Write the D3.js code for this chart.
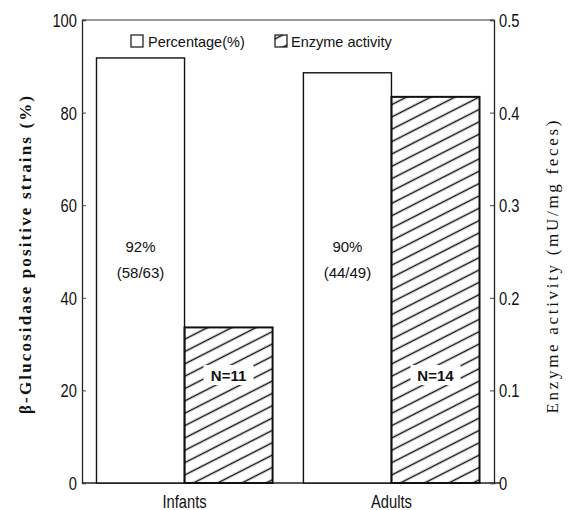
<!DOCTYPE html>
<html>
<head>
<meta charset="utf-8">
<script src="https://cdn.jsdelivr.net/npm/d3@7"></script>
<style>
  body { margin: 0; background: #fff; }
  svg text { fill: #111; }
  .tick-lab { font-family: "Liberation Sans", Arial, sans-serif; font-size: 18px; }
  .serif { font-family: "Liberation Serif", "Times New Roman", serif; font-size: 17px; }
  .legend { font-family: "Liberation Sans", Arial, sans-serif; font-size: 14.5px; }
</style>
</head>
<body>
<div id="plot"></div>
<script>
// ---- data ----
var categories = ["Infants", "Adults"];
var percentage = [91.8, 88.6];        // left axis, %
var enzyme = [0.168, 0.417];          // right axis, mU/mg feces
var pctLabels = ["92%", "90%"];
var ratioLabels = ["(58/63)", "(44/49)"];
var nLabels = ["N=11", "N=14"];
var leftTicks = [0, 20, 40, 60, 80, 100];
var rightTicks = [0, 0.1, 0.2, 0.3, 0.4, 0.5];

var W = 570, H = 510;
var margin = {top: 20, right: 76, bottom: 27, left: 82};
var width = W - margin.left - margin.right,
    height = H - margin.top - margin.bottom;
var narrow = 0.82;   // squeeze for the condensed sans used on the axes

var svg = d3.select("#plot").append("svg")
    .attr("width", W).attr("height", H);

// hatch pattern
var defs = svg.append("defs");
defs.append("pattern")
    .attr("id", "hatch")
    .attr("patternUnits", "userSpaceOnUse")
    .attr("width", 11).attr("height", 11)
    .attr("patternTransform", "rotate(-27)")
  .append("line")
    .attr("x1", 0).attr("y1", 5.5).attr("x2", 11).attr("y2", 5.5)
    .style("stroke", "#111").style("stroke-width", 1.5);

var chart = svg.append("g")
    .attr("transform", "translate(" + margin.left + "," + margin.top + ")");

var x = d3.scaleBand().domain(categories).range([0, width])
    .paddingInner(0.149).paddingOuter(0.07);
var xSub = d3.scaleBand().domain(["pct", "enz"]).range([0, x.bandwidth()]);
var yL = d3.scaleLinear().domain([0, 100]).range([height, 0]);
var yR = d3.scaleLinear().domain([0, 0.5]).range([height, 0]);

// frame
chart.append("line").attr("x1", 0).attr("x2", width).attr("y1", 0).attr("y2", 0)
    .style("stroke", "#333").style("stroke-width", 1);
chart.append("line").attr("x1", 0).attr("x2", width + 6).attr("y1", height).attr("y2", height)
    .style("stroke", "#222").style("stroke-width", 1.3);

// bars
var groups = chart.selectAll(".grp").data(categories).enter().append("g")
    .attr("class", "grp")
    .attr("transform", function(d) { return "translate(" + x(d) + ",0)"; });

groups.append("rect")
    .attr("x", xSub("pct"))
    .attr("y", function(d, i) { return yL(percentage[i]); })
    .attr("width", xSub.bandwidth())
    .attr("height", function(d, i) { return height - yL(percentage[i]); })
    .style("fill", "#fff").style("stroke", "#111").style("stroke-width", 1.4);

groups.append("rect")
    .attr("x", xSub("enz"))
    .attr("y", function(d, i) { return yR(enzyme[i]); })
    .attr("width", xSub.bandwidth())
    .attr("height", function(d, i) { return height - yR(enzyme[i]); })
    .style("fill", "url(#hatch)").style("stroke", "#111").style("stroke-width", 2);

// labels inside bars
groups.append("text").attr("class", "legend")
    .attr("x", xSub("pct") + xSub.bandwidth() / 2)
    .attr("y", yL(51) + 5.5)
    .attr("text-anchor", "middle")
    .style("font-size", "15px")
    .text(function(d, i) { return pctLabels[i]; });
groups.append("text").attr("class", "legend")
    .attr("x", xSub("pct") + xSub.bandwidth() / 2)
    .attr("y", yL(45.4) + 5.5)
    .attr("text-anchor", "middle")
    .style("font-size", "15px")
    .text(function(d, i) { return ratioLabels[i]; });

var nLab = groups.append("g")
    .attr("transform", function() {
      return "translate(" + (xSub("enz") + xSub.bandwidth() / 2) + "," + yR(0.1166) + ")";
    });
nLab.append("rect")
    .attr("x", -25).attr("y", -10).attr("width", 50).attr("height", 20)
    .style("fill", "#fff");
nLab.append("text").attr("class", "legend")
    .attr("y", 5.5)
    .attr("text-anchor", "middle")
    .style("font-weight", "bold")
    .style("font-size", "15px")
    .text(function(d, i) { return nLabels[i]; });

// axes
var axL = chart.append("g")
    .call(d3.axisLeft(yL).tickValues(leftTicks).tickSize(-4).tickPadding(5).tickFormat(d3.format("d")));
var axR = chart.append("g")
    .attr("transform", "translate(" + width + ",0)")
    .call(d3.axisRight(yR).tickValues(rightTicks).tickSize(-4).tickPadding(5)
      .tickFormat(function(d) { return d === 0 ? "0" : d3.format(".1f")(d); }));
[axL, axR].forEach(function(ax) {
  ax.attr("font-size", null).attr("font-family", null);
  ax.select(".domain").style("stroke", "#222").style("stroke-width", 1.3);
  ax.selectAll(".tick line").style("stroke", "#444");
  ax.selectAll(".tick text").attr("class", "tick-lab").attr("dy", "0.36em")
    .each(function() {
      var t = d3.select(this), tx = +t.attr("x");
      t.attr("x", 0).attr("transform", "translate(" + tx + ",0) scale(" + narrow + ",1)");
    });
});

// category labels
chart.selectAll(".cat").data(categories).enter().append("text")
    .attr("class", "tick-lab")
    .attr("transform", function(d) {
      return "translate(" + (x(d) + x.bandwidth() / 2) + "," + (height + 25) + ") scale(" + narrow + ",1)";
    })
    .attr("text-anchor", "middle")
    .text(function(d) { return d; });

// axis titles
svg.append("text").attr("class", "serif")
    .attr("transform", "translate(31,255) rotate(-90)")
    .attr("text-anchor", "middle")
    .attr("textLength", 318).attr("lengthAdjust", "spacing")
    .style("font-weight", "bold")
    .text("β-Glucosidase positive strains (%)");
svg.append("text").attr("class", "serif")
    .attr("transform", "translate(558,267) rotate(-90)")
    .attr("text-anchor", "middle")
    .attr("textLength", 293).attr("lengthAdjust", "spacing")
    .text("Enzyme activity (mU/mg feces)");

// legend
var lg = svg.append("g").attr("class", "legend");
lg.append("rect").attr("x", 131).attr("y", 35).attr("width", 12).attr("height", 12)
    .style("fill", "#fff").style("stroke", "#111").style("stroke-width", 1.2);
lg.append("text").attr("x", 148).attr("y", 47).text("Percentage(%)");
lg.append("rect").attr("x", 275).attr("y", 35).attr("width", 12).attr("height", 12)
    .style("fill", "url(#hatch)").style("stroke", "#111").style("stroke-width", 1.2);
lg.append("text").attr("x", 291).attr("y", 47).text("Enzyme activity");
</script>
</body>
</html>
